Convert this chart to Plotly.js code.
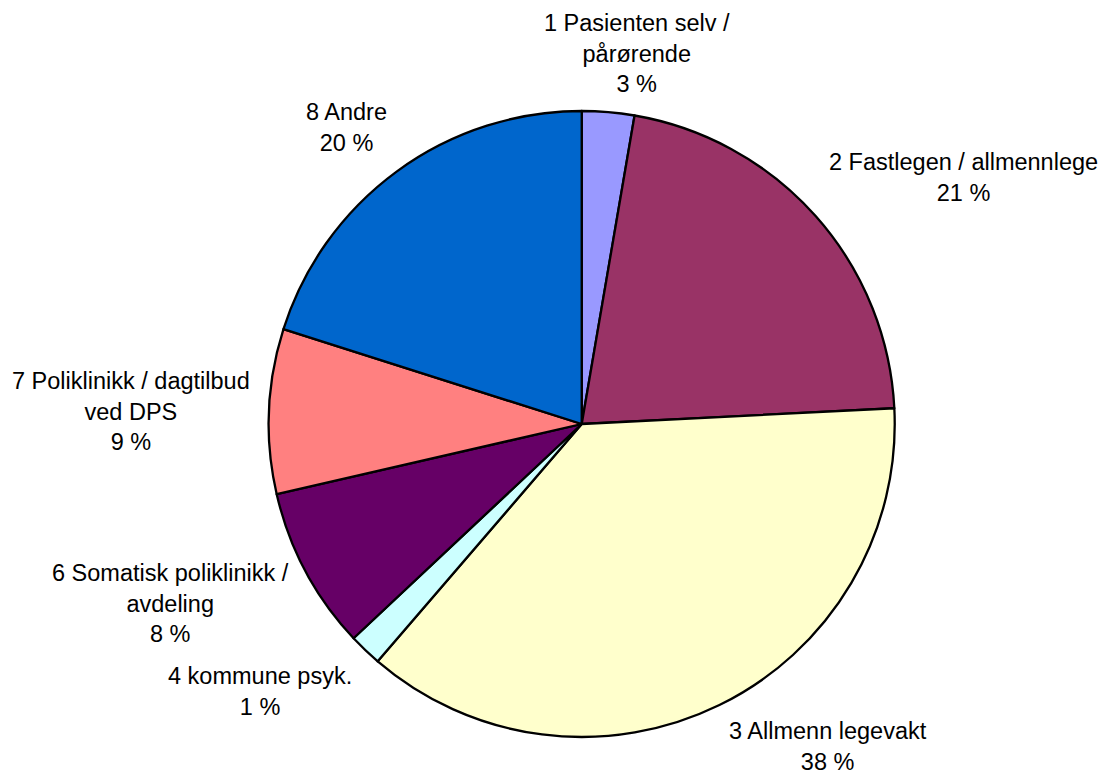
<!DOCTYPE html>
<html>
<head>
<meta charset="utf-8">
<script src="https://cdn.plot.ly/plotly-3.0.1.min.js"></script>
<style>html,body{margin:0;padding:0;background:#fff;}#chart{width:1120px;height:775px;}</style>
</head>
<body>
<div id="chart"></div>
<script>
// Data
var categories = [
  "1 Pasienten selv /<br>pårørende",
  "2 Fastlegen / allmennlege",
  "3 Allmenn legevakt",
  "4 kommune psyk.",
  "6 Somatisk poliklinikk /<br>avdeling",
  "7 Poliklinikk / dagtilbud<br>ved DPS",
  "8 Andre"
];
var shares = [2.7, 21.5, 37.1, 1.7, 8.4, 8.5, 20.1];
var percentLabels = ["3 %", "21 %", "38 %", "1 %", "8 %", "9 %", "20 %"];
var sliceColors = ["#9999FF", "#993366", "#FFFFCC", "#CCFFFF", "#660066", "#FF8080", "#0066CC"];

// Label placement (pixel centres in the 1120x775 page)
var labelPos = [[637, 53], [963, 177], [828, 746], [260, 691], [170, 603], [131, 411], [346, 128]];

var W = 1120, H = 775, mT = 111, mB = 38;
var plotH = H - mT - mB;

var annotations = categories.map(function (c, i) {
  return {
    text: c + "<br>" + percentLabels[i],
    xref: "paper", yref: "paper",
    x: labelPos[i][0] / W,
    y: (H - mB - labelPos[i][1]) / plotH,
    xanchor: "center", yanchor: "middle",
    showarrow: false,
    align: "center",
    borderpad: 0,
    font: {family: "Liberation Sans, Arial, sans-serif", size: 23.5, color: "#000"}
  };
});

var trace = {
  type: "pie",
  labels: categories,
  values: shares,
  sort: false,
  direction: "clockwise",
  rotation: 0,
  marker: {colors: sliceColors, line: {color: "#000", width: 2.3}},
  textinfo: "none",
  hoverinfo: "none",
  domain: {x: [0.2399, 0.7989], y: [0, 1]}
};

var layout = {
  width: W, height: H,
  margin: {l: 0, r: 0, t: mT, b: mB, pad: 0},
  paper_bgcolor: "#fff",
  plot_bgcolor: "#fff",
  showlegend: false,
  annotations: annotations,
  font: {family: "Liberation Sans, Arial, sans-serif"}
};

Plotly.newPlot("chart", [trace], layout, {displayModeBar: false, staticPlot: true});
</script>
</body>
</html>
